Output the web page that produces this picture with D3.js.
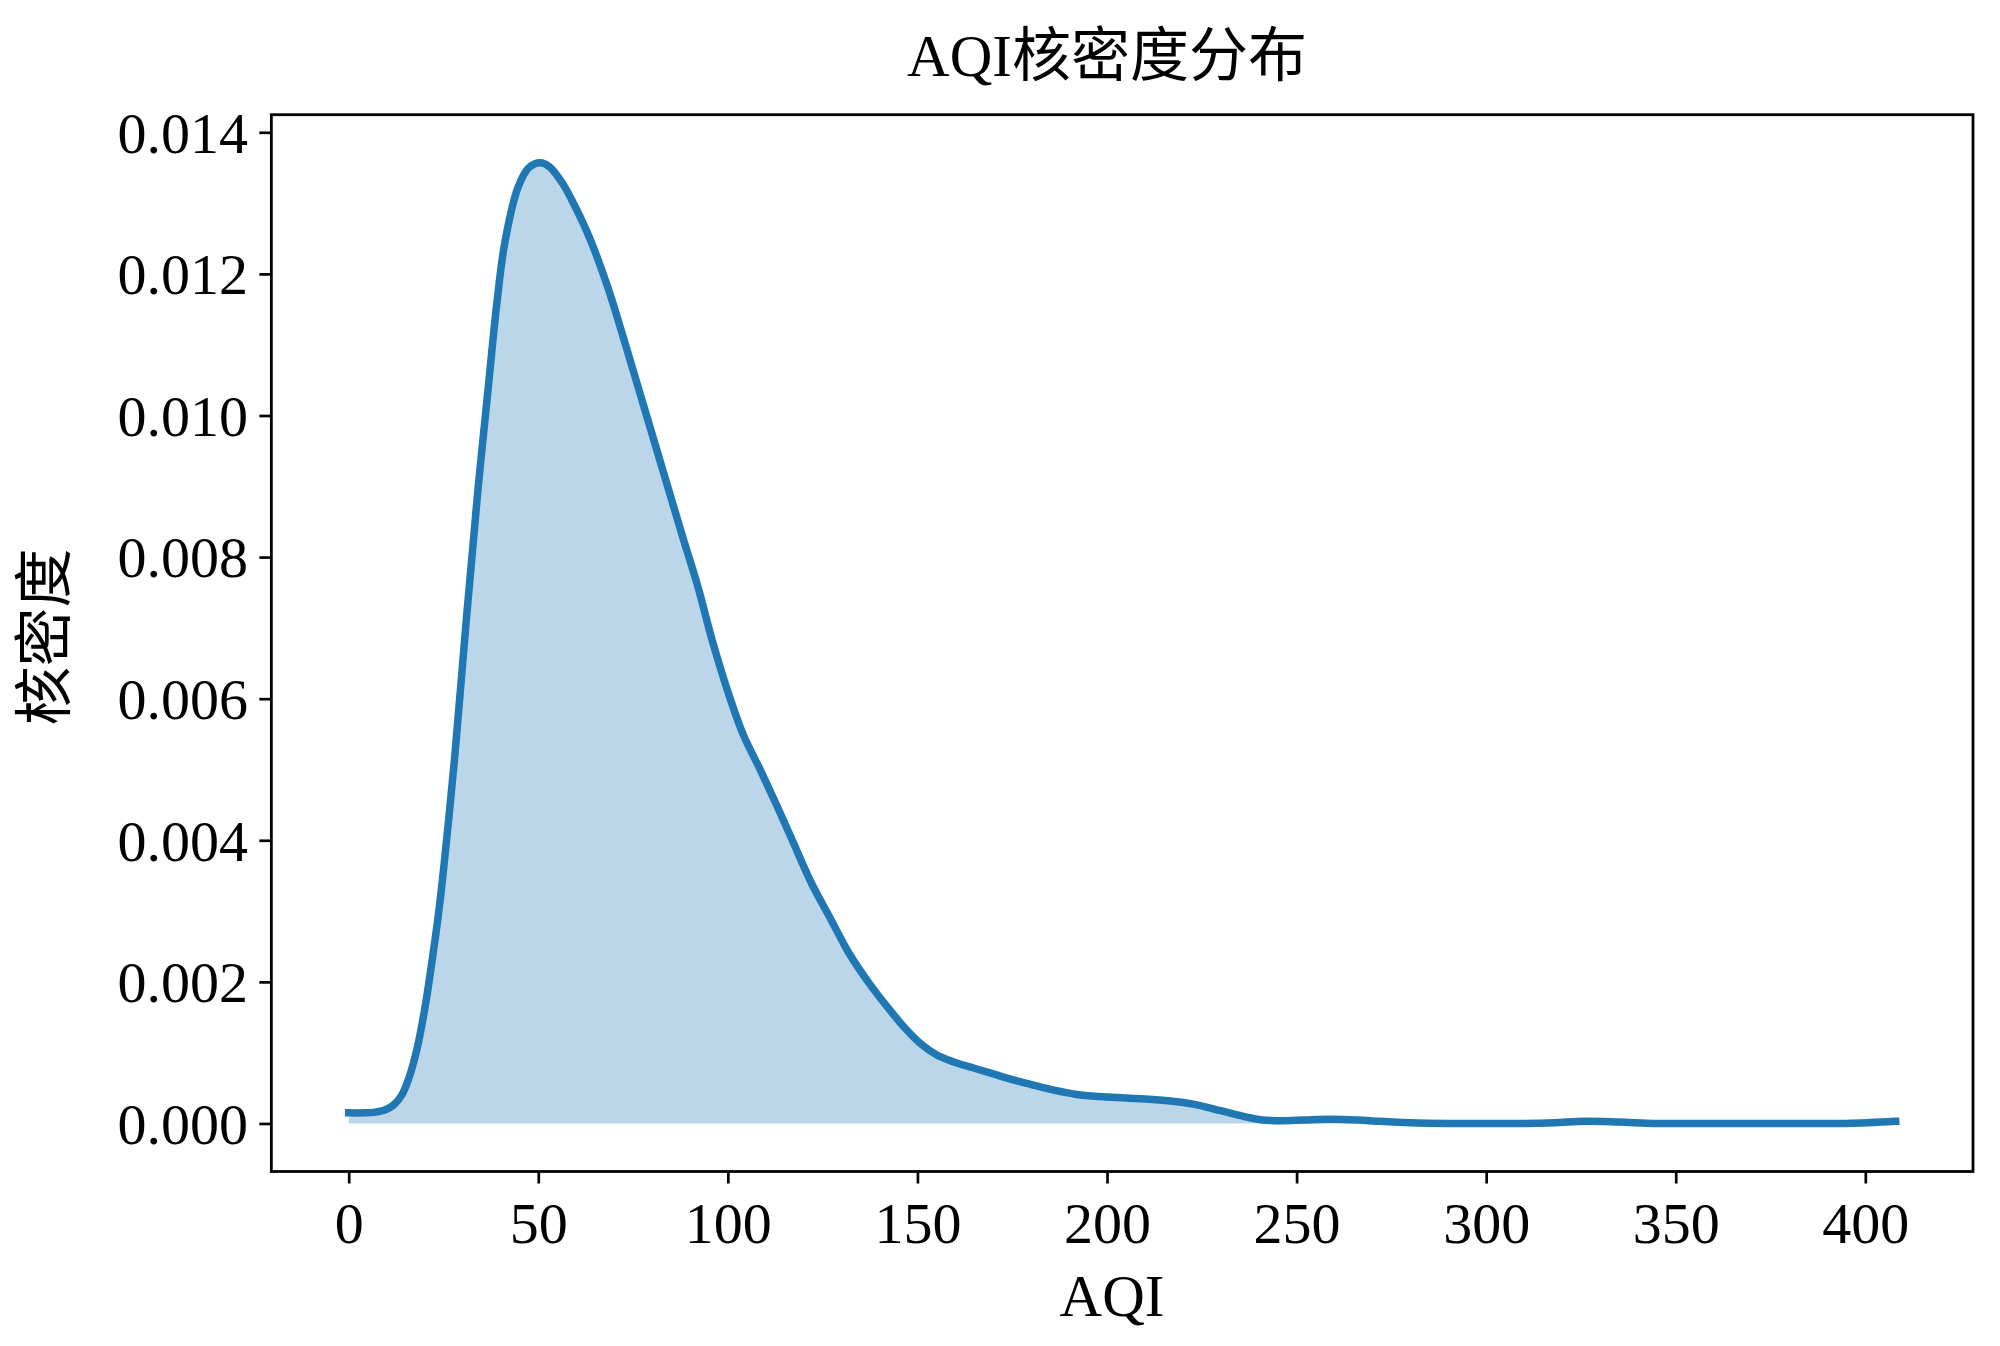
<!DOCTYPE html>
<html>
<head>
<meta charset="utf-8">
<script src="https://cdn.jsdelivr.net/npm/d3@7/dist/d3.min.js"></script>
<style>
  html, body { margin: 0; padding: 0; background: #fff; }
  svg { display: block; }
  text { font-family: "Liberation Serif", "Noto Sans CJK SC", serif; fill: #000; }
</style>
</head>
<body>
<svg id="chart" width="2000" height="1346"></svg>
<script>
// ---- data ----
const aqiX = [0, 4, 7, 10, 12, 14, 16, 18, 20, 22, 24, 26, 28, 31, 34, 37, 39, 41.2, 44.7, 47.5, 50.5,
  53, 56.5, 60, 63.6, 68.4, 73, 78, 83, 88, 92, 96, 100, 104, 108.5, 113, 117, 122, 127, 132, 137,
  142, 147, 151, 155, 160, 165, 170, 175, 180, 186, 192, 198, 205, 212, 218, 224, 230, 236, 241,
  246, 252, 259, 266, 272, 280, 290, 300, 310, 318, 326, 335, 345, 360, 380, 395, 408];
const density = [0.00015, 0.00015, 0.00016, 0.0002, 0.00027, 0.0004, 0.00066, 0.00105, 0.0016, 0.0023,
  0.0031, 0.0041, 0.0052, 0.0071, 0.0089, 0.0105, 0.01155, 0.01245, 0.01323, 0.0135, 0.01357,
  0.01351, 0.01327, 0.01292, 0.0125, 0.0118, 0.0110, 0.0101, 0.0092, 0.0083, 0.0076, 0.0068, 0.0061,
  0.0055, 0.0050, 0.00448, 0.0040, 0.0034, 0.0029, 0.0024, 0.0020, 0.00165, 0.00133, 0.00112, 0.00097,
  0.00086, 0.00078, 0.0007, 0.00062, 0.00055, 0.00047, 0.00041, 0.00038, 0.00036, 0.00034, 0.00031,
  0.00026, 0.00018, 0.0001, 0.00005, 0.00004, 0.00005, 0.00006, 0.00005, 0.00003, 0.00001, 0.0, 0.0,
  0.0, 0.00001, 0.00003, 0.00002, 0.0, 0.0, 0.0, 0.0, 0.00003];
const xTicks = [0, 50, 100, 150, 200, 250, 300, 350, 400];
const yTicks = [0, 0.002, 0.004, 0.006, 0.008, 0.010, 0.012, 0.014];
const titleText = "AQI核密度分布";
const xLabel = "AQI";
const yLabel = "核密度";

// ---- layout ----
const plotL = 271.35, plotR = 1973, plotT = 114.7, plotB = 1171.5;
const svg = d3.select("#chart");

const xMin = 0 - 0.05 * 408, xMax = 408 + 0.05 * 408;
const yMaxData = 0.01357;
const x = d3.scaleLinear().domain([xMin, xMax]).range([plotL, plotR]);
const y = d3.scaleLinear().domain([-0.05 * yMaxData, yMaxData * 1.05]).range([plotB, plotT]);

const pts = aqiX.map((v, i) => [v, density[i]]);
const curve = d3.curveCatmullRom.alpha(0.5);

// fill
const area = d3.area().x(d => x(d[0])).y0(y(0)).y1(d => y(d[1])).curve(curve);
svg.append("path").datum(pts).attr("d", area)
  .attr("fill", "rgb(31,119,180)").attr("fill-opacity", 0.3);

// line
const line = d3.line().x(d => x(d[0])).y(d => y(d[1])).curve(curve);
svg.append("path").datum(pts).attr("d", line)
  .attr("fill", "none").attr("stroke", "#1f77b4").attr("stroke-width", 7.5)
  .attr("stroke-linecap", "square").attr("stroke-linejoin", "round");

// axes
const xAxis = d3.axisBottom(x).tickValues(xTicks).tickFormat(d3.format("d")).tickSize(12).tickSizeOuter(0);
const gx = svg.append("g").attr("transform", `translate(0,${plotB})`).call(xAxis);
gx.select(".domain").remove();
gx.selectAll(".tick line").attr("stroke", "#000").attr("stroke-width", 2.7);
gx.selectAll(".tick text").attr("y", 71.5).attr("dy", 0).attr("font-size", 58)
  .attr("font-family", "Liberation Serif");

const yAxis = d3.axisLeft(y).tickValues(yTicks).tickFormat(d3.format(".3f")).tickSize(12).tickSizeOuter(0);
const gy = svg.append("g").attr("transform", `translate(${plotL},0)`).call(yAxis);
gy.select(".domain").remove();
gy.selectAll(".tick line").attr("stroke", "#000").attr("stroke-width", 2.7);
gy.selectAll(".tick text").attr("x", -23.4).attr("dy", "0.34em").attr("font-size", 58)
  .attr("font-family", "Liberation Serif");

// frame
svg.append("rect").attr("x", plotL).attr("y", plotT).attr("width", plotR - plotL).attr("height", plotB - plotT)
  .attr("fill", "none").attr("stroke", "#000").attr("stroke-width", 2.8);

// title
svg.append("text").attr("x", 1107).attr("y", 76).attr("text-anchor", "middle")
  .attr("font-size", 59).text(titleText);

// x label
svg.append("text").attr("x", 1112).attr("y", 1316).attr("text-anchor", "middle")
  .attr("font-size", 59).text(xLabel);

// y label
svg.append("text").attr("transform", "translate(45,637) rotate(-90)")
  .attr("text-anchor", "middle").attr("dominant-baseline", "central")
  .attr("font-size", 59).text(yLabel);
</script>
</body>
</html>
